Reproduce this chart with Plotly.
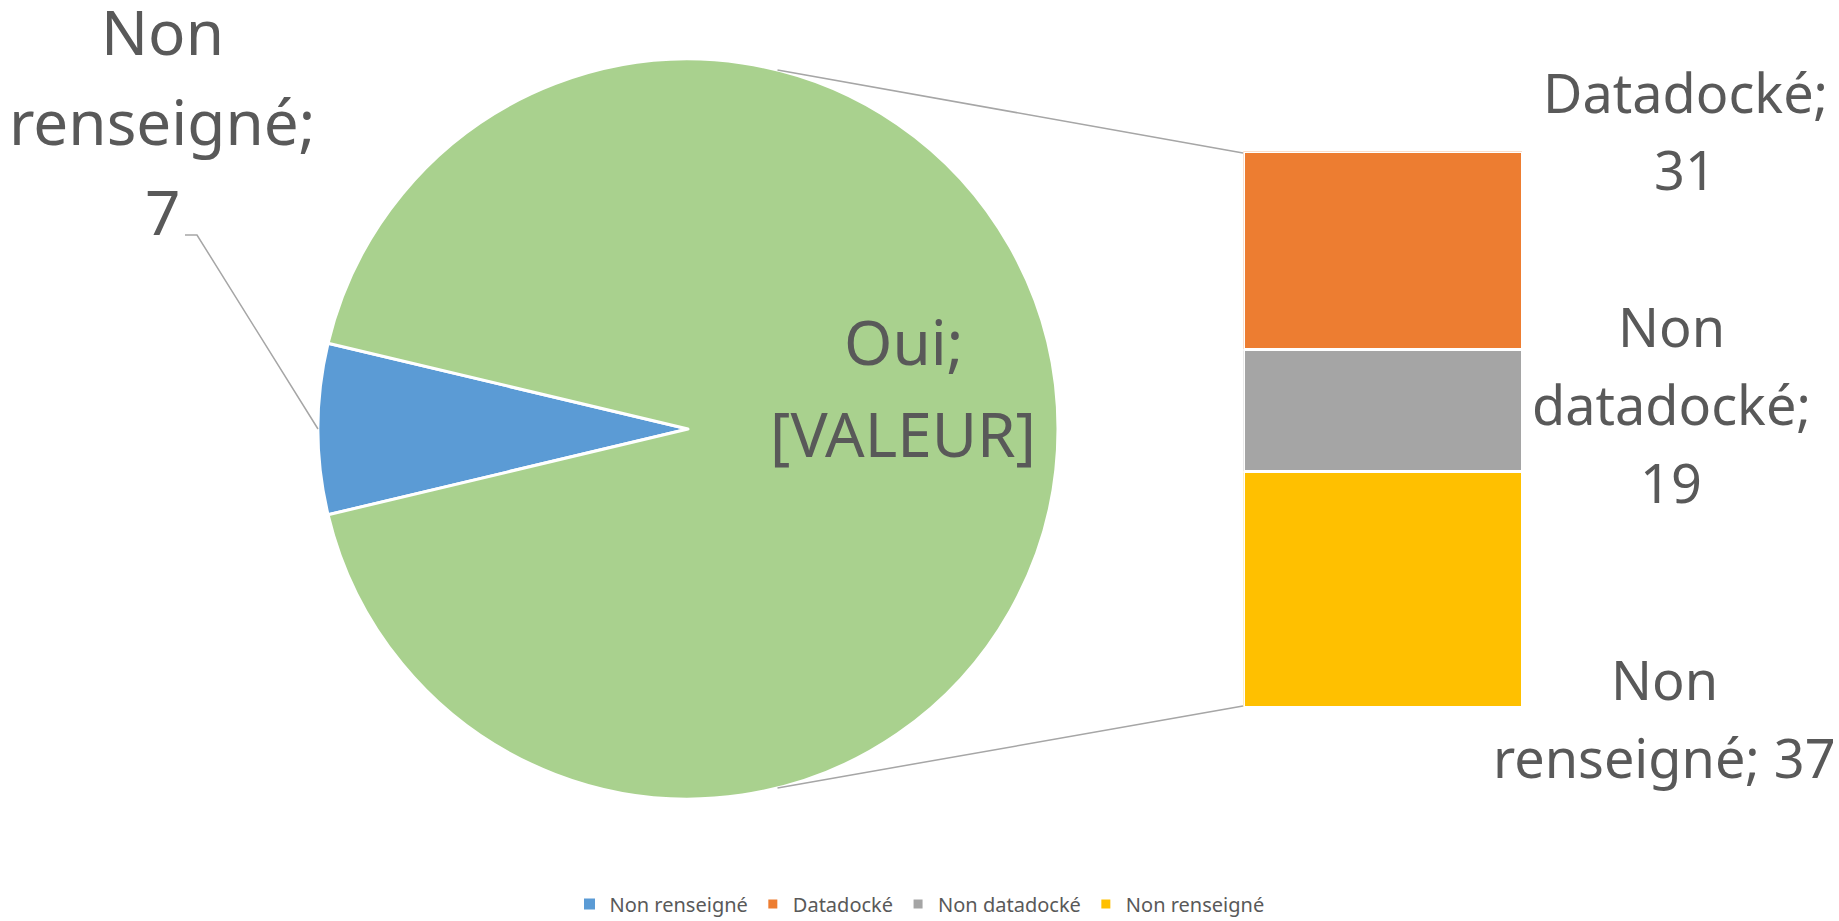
import math
import plotly.graph_objects as go

# ---------------- data ----------------
pie_labels = ["Non renseigné", "Oui"]
pie_first_value = 7
bar_labels = ["Datadocké", "Non datadocké", "Non renseigné"]   # top to bottom
bar_values = [31, 19, 37]
pie_values = [pie_first_value, sum(bar_values)]
pie_value_texts = [str(pie_values[0]), "[VALEUR]"]
legend_labels = ["Non renseigné", "Datadocké", "Non datadocké", "Non renseigné"]

# ---------------- style ----------------
W, H = 1839, 921
BLUE, GREEN = "#5B9BD5", "#A9D18E"
BAR_COLORS = ["#ED7D31", "#A5A5A5", "#FFC000"]
TEXT = "#595959"
LINE = "#A6A6A6"
FONT = "Noto Sans"

PIE_CX, PIE_CY, PIE_R = 688, 429, 370
BAR_X0, BAR_X1, BAR_Y0, BAR_Y1 = 1245, 1521, 153, 706
CONN_ANGLE = 76  # degrees where connector lines leave the pie


def px(x):
    return x / W


def py(y):
    return 1 - y / H


fig = go.Figure()

# pie: first slice centred on 9 o'clock
first_share = pie_values[0] / sum(pie_values) * 360
fig.add_trace(go.Pie(
    labels=pie_labels, values=pie_values, sort=False, direction="clockwise",
    rotation=270 - first_share / 2,
    marker=dict(colors=[BLUE, GREEN], line=dict(color="white", width=3)),
    textinfo="none", showlegend=False, hoverinfo="label+value",
    domain=dict(x=[px(PIE_CX - PIE_R), px(PIE_CX + PIE_R)],
                y=[py(PIE_CY + PIE_R), py(PIE_CY - PIE_R)]),
))

# legend entry for the pie slice
fig.add_trace(go.Bar(x=[None], y=[None], name=legend_labels[0],
                     marker=dict(color=BLUE, line=dict(color="white", width=1)),
                     legendrank=1, legendgroup="pie"))

# stacked bar (bottom first)
for i in reversed(range(len(bar_values))):
    fig.add_trace(go.Bar(
        x=[0], y=[bar_values[i]], width=[1], name=legend_labels[i + 1],
        marker=dict(color=BAR_COLORS[i], line=dict(color="white", width=3)),
        legendrank=i + 2, legendgroup="bar%d" % i, hoverinfo="name+y",
    ))

fig.update_layout(
    width=W, height=H, barmode="stack", bargap=0,
    margin=dict(l=0, r=0, t=0, b=0, autoexpand=False),
    paper_bgcolor="white", plot_bgcolor="white",
    font=dict(family=FONT, color=TEXT),
    xaxis=dict(domain=[px(BAR_X0 - 1.5), px(BAR_X1 + 1.5)], range=[-0.5, 0.5],
               visible=False, fixedrange=True),
    yaxis=dict(domain=[py(BAR_Y1 + 1.5), py(BAR_Y0 - 1.5)], range=[0, sum(bar_values)],
               visible=False, fixedrange=True),
    showlegend=True,
    legend=dict(orientation="h", x=0.5, xanchor="center", y=py(904), yanchor="middle",
                font=dict(family=FONT, size=20, color=TEXT), bgcolor="rgba(0,0,0,0)"),
)

# connector lines from pie to bar
a = math.radians(CONN_ANGLE)
for sign, by in ((1, BAR_Y0), (-1, BAR_Y1)):
    x0 = PIE_CX + PIE_R * math.cos(a)
    y0 = PIE_CY - sign * PIE_R * math.sin(a)
    fig.add_shape(type="line", xref="paper", yref="paper",
                  x0=px(x0), y0=py(y0), x1=px(BAR_X0 - 2), y1=py(by),
                  line=dict(color=LINE, width=1.5))

# leader line for the small slice label
mid = math.radians(180)
ex, ey = PIE_CX + PIE_R * math.cos(mid), PIE_CY - PIE_R * math.sin(mid)
fig.add_shape(type="path", xref="paper", yref="paper",
              path="M %f,%f L %f,%f L %f,%f" % (px(185), py(235), px(197), py(235), px(ex), py(ey)),
              line=dict(color=LINE, width=1.5))


def add_label(words, breaks, cx, first_baseline, size, spacing):
    lines, k = [], 0
    for n in breaks:
        lines.append(" ".join(words[k:k + n]))
        k += n
    for j, t in enumerate(lines):
        base = first_baseline + j * spacing
        fig.add_annotation(x=px(cx), y=py(base - 0.388 * size), xref="paper", yref="paper",
                           text=t, showarrow=False, xanchor="center", yanchor="middle",
                           font=dict(family=FONT, size=size, color=TEXT))


# pie labels
add_label(("%s; %s" % (pie_labels[0], pie_value_texts[0])).split(" "), [1, 1, 1], 162, 55, 62, 90)
add_label(("%s; %s" % (pie_labels[1], pie_value_texts[1])).split(" "), [1, 1], 903, 365, 62, 92)
# bar labels
add_label(("%s; %s" % (bar_labels[0], bar_values[0])).split(" "), [1, 1], 1685, 113, 54, 77)
add_label(("%s; %s" % (bar_labels[1], bar_values[1])).split(" "), [1, 1, 1], 1671, 347, 54, 78)
add_label(("%s; %s" % (bar_labels[2], bar_values[2])).split(" "), [1, 2], 1664, 700, 54, 78)

fig.write_html("out.html", config={"displayModeBar": False},
               post_script="document.body.style.margin='0';")
